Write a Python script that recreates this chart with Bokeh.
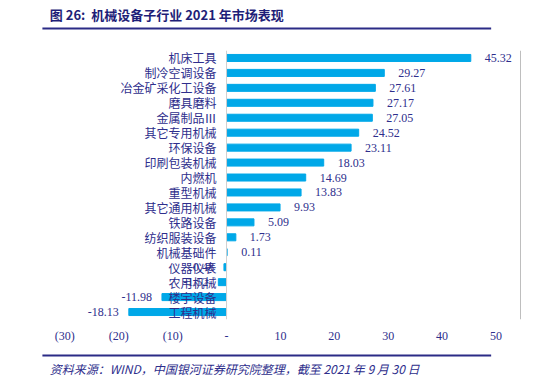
from bokeh.plotting import figure
from bokeh.models import ColumnDataSource, FactorRange, FixedTicker, Span, Range1d
from bokeh.layouts import column
from bokeh.core.properties import value
from bokeh.embed import file_html
from bokeh.resources import INLINE

# ---- data ----
categories = ["机床工具", "制冷空调设备", "冶金矿采化工设备", "磨具磨料", "金属制品Ⅲ",
              "其它专用机械", "环保设备", "印刷包装机械", "内燃机", "重型机械",
              "其它通用机械", "铁路设备", "纺织服装设备", "机械基础件", "仪器仪表",
              "农用机械", "楼宇设备", "工程机械"]
returns = [45.32, 29.27, 27.61, 27.17, 27.05, 24.52, 23.11, 18.03, 14.69, 13.83,
           9.93, 5.09, 1.73, 0.11, -0.48, -1.52, -11.98, -18.13]
x_ticks = [-30, -20, -10, 0, 10, 20, 30, 40, 50]
x_tick_labels = ["(30)", "(20)", "(10)", "-", "10", "20", "30", "40", "50"]

title_text = "图 26:\u00a0\u00a0机械设备子行业 2021 年市场表现"
source_text = "资料来源：WIND，中国银河证券研究院整理，截至 2021 年 9 月 30 日"

NAVY = "#2e2e8c"
RULE = "#2b2b86"
BAR = "#00a8e8"
CJK = "Noto Sans CJK SC"
NUM = "Liberation Serif"

W = 547
H_HEAD, H_CHART, H_FOOT = 32, 313, 40


def blank(height):
    f = figure(width=W, height=height, output_backend="svg", toolbar_location=None,
               x_range=Range1d(0, W), y_range=Range1d(height, 0),
               x_axis_location=None, y_axis_location=None,
               min_border=0, min_border_left=0, min_border_right=0,
               min_border_top=0, min_border_bottom=0)
    f.outline_line_color = None
    f.xgrid.visible = False
    f.ygrid.visible = False
    f.background_fill_color = "white"
    f.border_fill_color = "white"
    return f


# ---- header ----
head = blank(H_HEAD)
head.text(x=[34], y=[14], text=[title_text], text_baseline="middle",
          text_font=value(CJK), text_font_size="13px", text_font_style="bold",
          text_color="#1e1e78")
head.quad(left=[26], right=[514], top=[27], bottom=[29], color=RULE, line_color=None)

# ---- chart ----
pos = [v for v in returns if v >= 0]
neg = [v for v in returns if v < 0]
src = ColumnDataSource(dict(cat=categories, val=returns, zero=[0] * len(categories)))
src_pos = ColumnDataSource(dict(
    cat=[c for c, v in zip(categories, returns) if v >= 0],
    val=pos, lbl=[f"{v:.2f}" for v in pos]))
src_neg = ColumnDataSource(dict(
    cat=[c for c, v in zip(categories, returns) if v < 0],
    val=neg, lbl=[f"{v:.2f}" for v in neg]))

p = figure(width=W, height=H_CHART, output_backend="svg", toolbar_location=None,
           y_range=FactorRange(*reversed(categories)),
           x_range=Range1d(-38.6, 54.73),
           y_axis_location=None,
           min_border_left=18, min_border_right=26,
           min_border_top=18, min_border_bottom=26)
p.outline_line_color = None
p.xgrid.visible = False
p.ygrid.visible = False
p.background_fill_color = "white"
p.border_fill_color = "white"

p.hbar(y="cat", left=0, right="val", height=0.47, color=BAR, source=src)

p.add_layout(Span(location=0, dimension="height", line_color="#cfcfcf", line_width=1))
p.add_layout(Span(location=54.55, dimension="height", line_color="#bdbdbd", line_width=1))

p.text(x="zero", y="cat", text="cat", source=src, x_offset=-10,
       text_align="right", text_baseline="middle",
       text_font=value(CJK), text_font_size="12px", text_color=NAVY)

p.text(x="val", y="cat", text="lbl", source=src_pos, x_offset=14,
       text_align="left", text_baseline="middle",
       text_font=value(NUM), text_font_size="12px", text_color=NAVY)
p.text(x="val", y="cat", text="lbl", source=src_neg, x_offset=-10,
       text_align="right", text_baseline="middle",
       text_font=value(NUM), text_font_size="12px", text_color=NAVY)

ax = p.xaxis[0]
ax.ticker = FixedTicker(ticks=x_ticks)
ax.major_label_overrides = {t: l for t, l in zip(x_ticks, x_tick_labels)}
ax.axis_line_color = None
ax.major_tick_line_color = None
ax.minor_tick_line_color = None
ax.major_label_standoff = 3
ax.major_label_text_font = NUM
ax.major_label_text_font_size = "12px"
ax.major_label_text_color = NAVY

# ---- footer ----
foot = blank(H_FOOT)
foot.quad(left=[26], right=[514], top=[9], bottom=[11], color=RULE, line_color=None)
foot.text(x=[34], y=[23], text=[source_text], text_baseline="middle",
          text_font=value(CJK), text_font_size="12px", text_font_style="italic",
          text_color=NAVY)

layout = column(head, p, foot, spacing=0)
open("out.html", "w").write(file_html(layout, INLINE))
